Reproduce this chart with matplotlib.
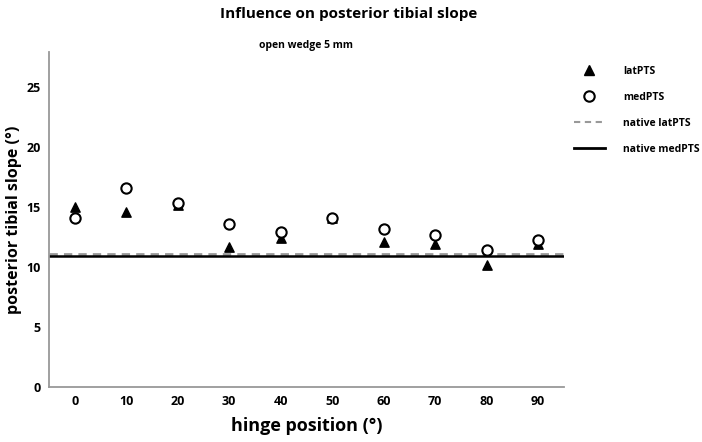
import matplotlib
matplotlib.use("Agg")
import matplotlib.pyplot as plt
from matplotlib.lines import Line2D

plt.rcParams['font.family'] = ['Open Sans', 'DejaVu Sans']

hinge = [0, 10, 20, 30, 40, 50, 60, 70, 80, 90]
lat_pts = [15.0, 14.55, 15.15, 11.65, 12.45, 14.05, 12.1, 11.9, 10.2, 11.9]
med_pts = [14.05, 16.55, 15.3, 13.55, 12.95, 14.1, 13.17, 12.67, 11.4, 12.25]
native_lat = 11.1
native_med = 10.9
yticks = [0, 5, 10, 15, 20, 25]

fig = plt.figure(figsize=(7.02, 4.42), dpi=100)
ax = fig.add_axes([0.0698, 0.1244, 0.7336, 0.758])

ax.axhline(native_lat, color='#999999', lw=2, ls=(0, (3, 2.2)), zorder=1)
ax.axhline(native_med, color='black', lw=1.8, zorder=1)
ax.scatter(hinge, lat_pts, marker='^', s=45, color='black', zorder=3)
ax.scatter(hinge, med_pts, marker='o', s=55, facecolor='white', edgecolor='black', linewidths=1.5, zorder=3)

ax.set_xlim(-5, 95)
ax.set_ylim(0, 27.9)
ax.set_xticks(hinge)
ax.set_yticks(yticks)
for s in ['top', 'right']:
    ax.spines[s].set_visible(False)
for s in ['left', 'bottom']:
    ax.spines[s].set_color('#999999')
    ax.spines[s].set_linewidth(1.3)
ax.tick_params(length=0, labelsize=9, pad=6)
for lab in ax.get_xticklabels() + ax.get_yticklabels():
    lab.set_fontweight('bold')

ax.set_xlabel('hinge position (°)', fontsize=13, fontweight='bold', labelpad=6)
ax.set_ylabel('posterior tibial slope (°)', fontsize=11.5, fontweight='bold', labelpad=3)
fig.text(0.497, 0.968, 'Influence on posterior tibial slope', ha='center', va='center',
         fontsize=11, fontweight='bold')
ax.set_title('open wedge 5 mm', fontsize=7.5, fontweight='bold', pad=3)

handles = [
    Line2D([], [], ls='none', marker='^', ms=7.5, color='black'),
    Line2D([], [], ls='none', marker='o', ms=7.5, mfc='white', mec='black', mew=1.5),
    Line2D([], [], color='#999999', lw=1.5, ls=(0, (3, 2.2))),
    Line2D([], [], color='black', lw=2),
]
labels = ['latPTS', 'medPTS', 'native latPTS', 'native medPTS']
leg = fig.legend(handles, labels, loc='upper left', bbox_to_anchor=(0.804, 0.873),
                 frameon=False, prop={'size': 7.5, 'weight': 'bold'},
                 handlelength=3, handletextpad=1.75, labelspacing=1.45)

fig.savefig('out.png', dpi=100)
